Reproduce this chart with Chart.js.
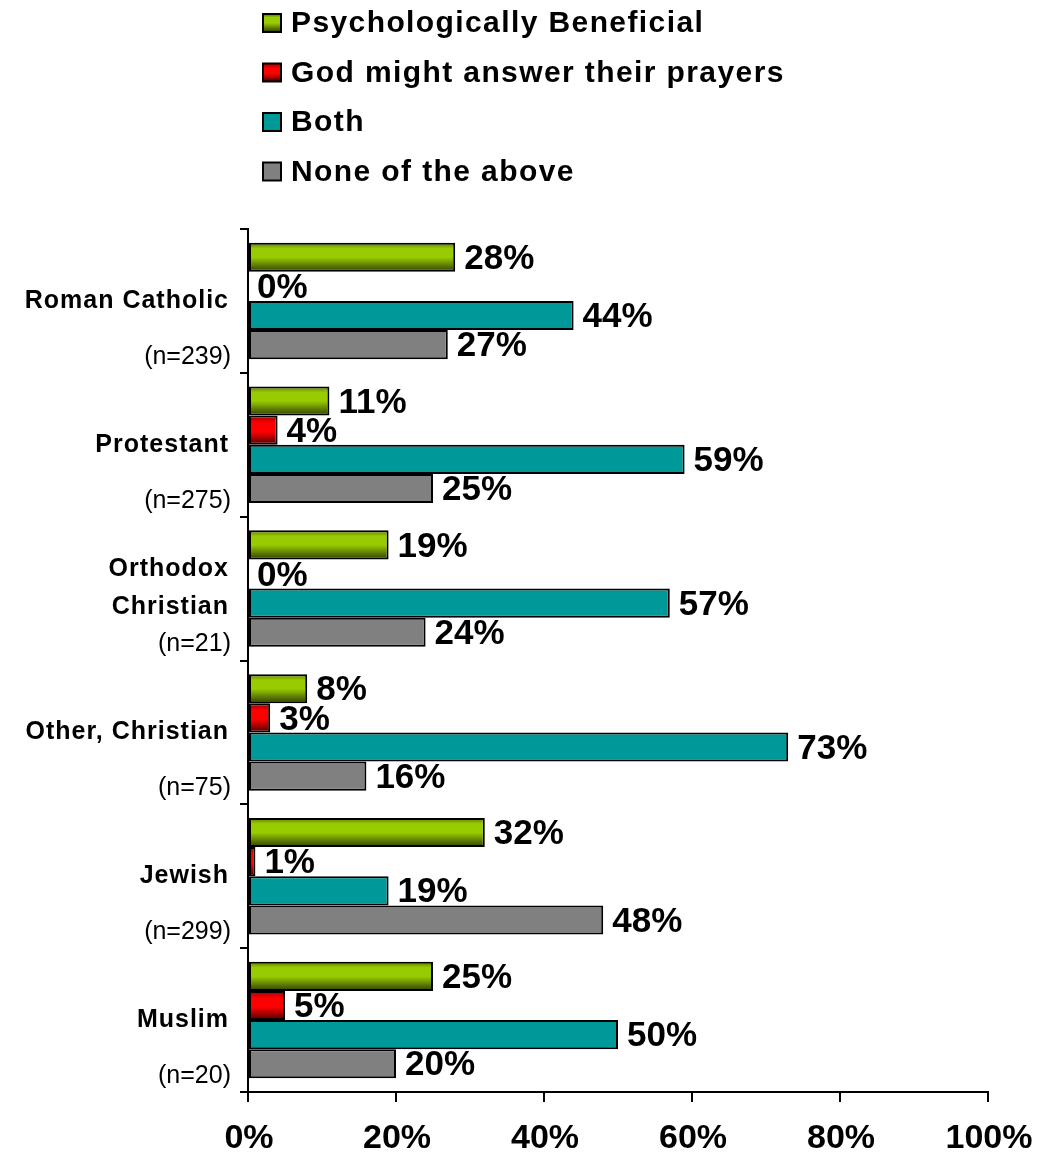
<!DOCTYPE html>
<html>
<head>
<meta charset="utf-8">
<script src="https://cdn.jsdelivr.net/npm/chart.js@4/dist/chart.umd.min.js"></script>
<style>
  body { margin: 0; background: #fff; }
  canvas { display: block; }
</style>
</head>
<body>
<canvas id="prayerChart" width="1037" height="1154"></canvas>
<script>
var categories = ["Roman Catholic", "Protestant", ["Orthodox", "Christian"], "Other, Christian", "Jewish", "Muslim"];
var sampleSizes = ["(n=239)", "(n=275)", "(n=21)", "(n=75)", "(n=299)", "(n=20)"];
var seriesNames = ["Psychologically Beneficial", "God might answer their prayers", "Both", "None of the above"];
var psychData = [28, 11, 19, 8, 32, 25];
var godData = [0, 4, 0, 3, 1, 5];
var bothData = [44, 59, 57, 73, 19, 50];
var noneData = [27, 25, 24, 16, 48, 20];
var xTicks = [0, 20, 40, 60, 80, 100];

var FONT = "'Liberation Sans', Arial, sans-serif";

// vertical gradients like the excel fills
var fills = [
  [[0, "#5c7a00"], [0.2, "#99cc00"], [0.5, "#99cc00"], [1, "#2e3d00"]],
  [[0, "#a00000"], [0.25, "#ff0000"], [0.55, "#ff0000"], [1, "#4d0000"]],
  "#009999",
  "#808080"
];

function makeFill(ctx, fill, top, bottom) {
  if (typeof fill === "string") return fill;
  var g = ctx.createLinearGradient(0, top, 0, bottom);
  fill.forEach(function (s) { g.addColorStop(s[0], s[1]); });
  return g;
}

var gradientBars = {
  id: "gradientBars",
  beforeDatasetsDraw: function (chart) {
    chart.data.datasets.forEach(function (ds, i) {
      chart.getDatasetMeta(i).data.forEach(function (bar) {
        var top = bar.y - bar.height / 2;
        var bg = makeFill(chart.ctx, fills[i], top, top + bar.height);
        bar.options = Object.assign({}, bar.options, { backgroundColor: bg });
      });
    });
  }
};

var valueLabels = {
  id: "valueLabels",
  afterDatasetsDraw: function (chart) {
    var ctx = chart.ctx;
    ctx.save();
    ctx.font = "bold 35px " + FONT;
    ctx.fillStyle = "#000";
    ctx.textAlign = "left";
    ctx.textBaseline = "middle";
    chart.data.datasets.forEach(function (ds, i) {
      chart.getDatasetMeta(i).data.forEach(function (bar, j) {
        ctx.fillText(ds.data[j] + "%", bar.x + 9, bar.y + 2);
      });
    });
    ctx.restore();
  }
};

var categoryLabels = {
  id: "categoryLabels",
  afterDraw: function (chart) {
    var ctx = chart.ctx;
    var y = chart.scales.y;
    var band = (y.bottom - y.top) / categories.length;
    ctx.save();
    ctx.fillStyle = "#000";
    ctx.textAlign = "right";
    ctx.textBaseline = "middle";
    categories.forEach(function (name, i) {
      var c = y.getPixelForValue(i);
      var lines = Array.isArray(name) ? name : [name];
      ctx.font = "bold 25px " + FONT;
      ctx.letterSpacing = "1px";
      lines.forEach(function (ln, k) {
        ctx.fillText(ln, 229, c + (k - (lines.length - 1) / 2) * 38);
      });
      ctx.font = "25px " + FONT;
      ctx.letterSpacing = "0px";
      ctx.fillText(sampleSizes[i], 231, c + band / 2 - 16);
    });
    ctx.restore();
  }
};

var xLabels = {
  id: "xLabels",
  afterDraw: function (chart) {
    var ctx = chart.ctx;
    var x = chart.scales.x;
    ctx.save();
    ctx.fillStyle = "#000";
    ctx.textAlign = "center";
    ctx.textBaseline = "middle";
    ctx.font = "bold 34px " + FONT;
    xTicks.forEach(function (v) {
      ctx.fillText(v + "%", x.getPixelForValue(v) + 1, x.top + 47);
    });
    ctx.restore();
  }
};

var sideLegend = {
  id: "sideLegend",
  afterDraw: function (chart) {
    var ctx = chart.ctx;
    ctx.save();
    ctx.textAlign = "left";
    ctx.textBaseline = "middle";
    ctx.font = "bold 30px " + FONT;
    ctx.letterSpacing = "1.4px";
    chart.data.datasets.forEach(function (ds, i) {
      var cy = 23 + i * 49.5;
      ctx.fillStyle = makeFill(ctx, fills[i], cy - 9, cy + 9);
      ctx.fillRect(263, cy - 9, 18, 18);
      ctx.strokeStyle = "#000";
      ctx.lineWidth = 2;
      ctx.strokeRect(263, cy - 9, 18, 18);
      ctx.fillStyle = "#000";
      ctx.fillText(ds.label, 291, cy + 1);
    });
    ctx.restore();
  }
};

var datasets = [psychData, godData, bothData, noneData].map(function (d, i) {
  return {
    label: seriesNames[i],
    data: d,
    backgroundColor: typeof fills[i] === "string" ? fills[i] : fills[i][1][1],
    borderColor: "#000",
    borderWidth: 2,
    borderSkipped: false,
    categoryPercentage: 0.81,
    barPercentage: 1.0
  };
});

var ctx = document.getElementById("prayerChart").getContext("2d");
new Chart(ctx, {
  type: "bar",
  data: { labels: categories, datasets: datasets },
  options: {
    indexAxis: "y",
    responsive: false,
    animation: false,
    layout: { padding: { top: 229, right: 49, bottom: 0, left: 0 } },
    plugins: { legend: { display: false }, tooltip: { enabled: false } },
    scales: {
      x: {
        min: 0,
        max: 100,
        afterBuildTicks: function (scale) {
          scale.ticks = xTicks.map(function (v) { return { value: v }; });
        },
        afterFit: function (scale) {
          scale.height = 62;
          scale.paddingLeft = 0;
          scale.paddingRight = 0;
        },
        border: { display: true, color: "#000", width: 2 },
        grid: { drawOnChartArea: false, drawTicks: true, tickLength: 10, color: "#000", lineWidth: 2 },
        ticks: { display: false }
      },
      y: {
        offset: true,
        afterFit: function (scale) { scale.width = 248; },
        border: { display: true, color: "#000", width: 2 },
        grid: { offset: true, drawOnChartArea: false, drawTicks: true, tickLength: 8, color: "#000", lineWidth: 2 },
        ticks: { display: false }
      }
    }
  },
  plugins: [gradientBars, valueLabels, categoryLabels, xLabels, sideLegend]
});
</script>
</body>
</html>
